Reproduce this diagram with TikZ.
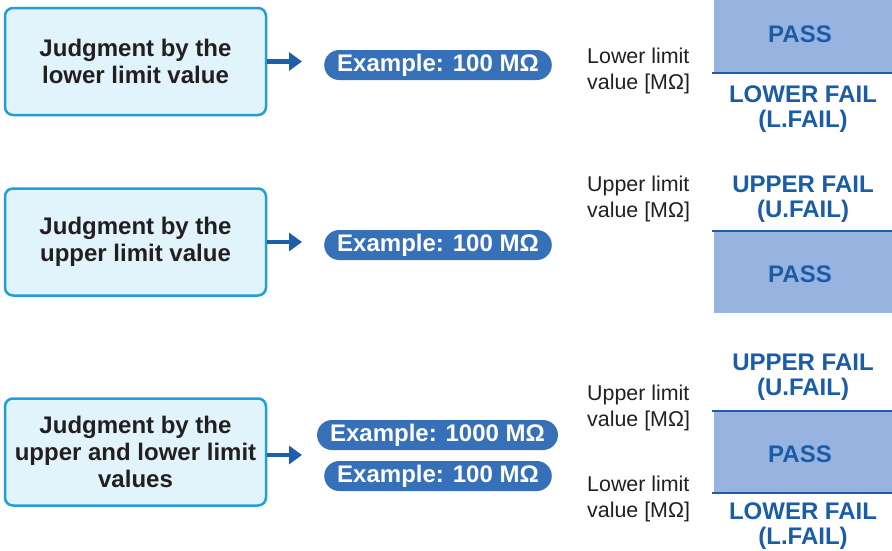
\documentclass[tikz,border=0pt]{standalone}
\usepackage{fontspec}
\setmainfont{Liberation Sans}
\usetikzlibrary{arrows.meta,shapes.misc}
\definecolor{boxfill}{HTML}{E1F3FB}
\definecolor{boxline}{HTML}{1E9FD8}
\definecolor{pillfill}{HTML}{3570B8}
\definecolor{arrblue}{HTML}{1F5FAA}
\definecolor{passfill}{HTML}{96B4DF}
\definecolor{txtblue}{HTML}{1A5CA8}
\definecolor{txtgray}{HTML}{231F20}
\tikzset{
  judgebox/.style={draw=boxline, fill=boxfill, line width=2.5pt, rounded corners=8pt,
    minimum width=261pt, minimum height=107pt, align=center, text=txtgray,
    font=\fontsize{24}{27}\selectfont\bfseries, inner sep=0pt},
  pill/.style={rounded rectangle, fill=pillfill, text=white, minimum height=30pt,
    font=\fontsize{24}{27}\selectfont\bfseries, inner sep=0pt, inner xsep=8pt},
  arr/.style={draw=arrblue, line width=4.5pt, -{Triangle[length=13pt,width=18pt]}},
  limlabel/.style={anchor=west, align=left, text=txtgray, inner sep=0pt,
    font=\fontsize{21.4}{26.5}\selectfont},
  judgetext/.style={align=center, text=txtblue, inner sep=0pt,
    font=\fontsize{24}{25}\selectfont\bfseries},
  passrect/.style={fill=passfill},
  limline/.style={draw=arrblue, line width=2.4pt},
}
\begin{document}
\begin{tikzpicture}[x=1pt,y=-1pt]
\useasboundingbox (0,0) rectangle (892,550);

% Row 1
\node[judgebox] (b1) at (135.5,61.5) {Judgment by the\\lower limit value};
\node[pill] (p1) at (438,65) {Example: 100 MΩ};
\draw[arr] (b1.east) -- ([xshift=-22pt]p1.west |- b1.east);
\node[limlabel] (l1) at (587,71) {Lower limit\\value [MΩ]};
\fill[passrect] (714,0) rectangle (892,72);
\node[judgetext] (pass1) at (800,34) {PASS};
\draw[limline] (712,73) coordinate (s1a) -- (892,73) coordinate (s1b);
\node[judgetext] (lf1) at (803,109) {LOWER FAIL\\(L.FAIL)};

% Row 2
\node[judgebox] (b2) at (135.5,242) {Judgment by the\\upper limit value};
\node[pill] (p2) at (438,245) {Example: 100 MΩ};
\draw[arr] (b2.east) -- ([xshift=-22pt]p2.west |- b2.east);
\node[limlabel] (l2) at (587,199) {Upper limit\\value [MΩ]};
\node[judgetext] (uf2) at (803,199) {UPPER FAIL\\(U.FAIL)};
\draw[limline] (712,231) coordinate (s2a) -- (892,231) coordinate (s2b);
\fill[passrect] (714,232) rectangle (892,313);
\node[judgetext] (pass2) at (800,274) {PASS};

% Row 3
\node[judgebox] (b3) at (135.5,452) {Judgment by the\\upper and lower limit\\values};
\node[pill] (p3a) at (437.5,435) {Example: 1000 MΩ};
\node[pill] (p3b) at (438,476) {Example: 100 MΩ};
\draw[arr] ([yshift=-3pt]b3.east) -- ([xshift=-22pt,yshift=-3pt]p3b.west |- b3.east);
\node[limlabel] (l3a) at (587,408) {Upper limit\\value [MΩ]};
\node[limlabel] (l3b) at (587,499) {Lower limit\\value [MΩ]};
\node[judgetext] (uf3) at (803,377) {UPPER FAIL\\(U.FAIL)};
\draw[limline] (712,411) coordinate (s3a) -- (892,411) coordinate (s3b);
\fill[passrect] (714,412) rectangle (892,493);
\node[judgetext] (pass3) at (800,454) {PASS};
\draw[limline] (712,493) coordinate (s3c) -- (892,493) coordinate (s3d);
\node[judgetext] (lf3) at (803,526) {LOWER FAIL\\(L.FAIL)};
\end{tikzpicture}
\end{document}
